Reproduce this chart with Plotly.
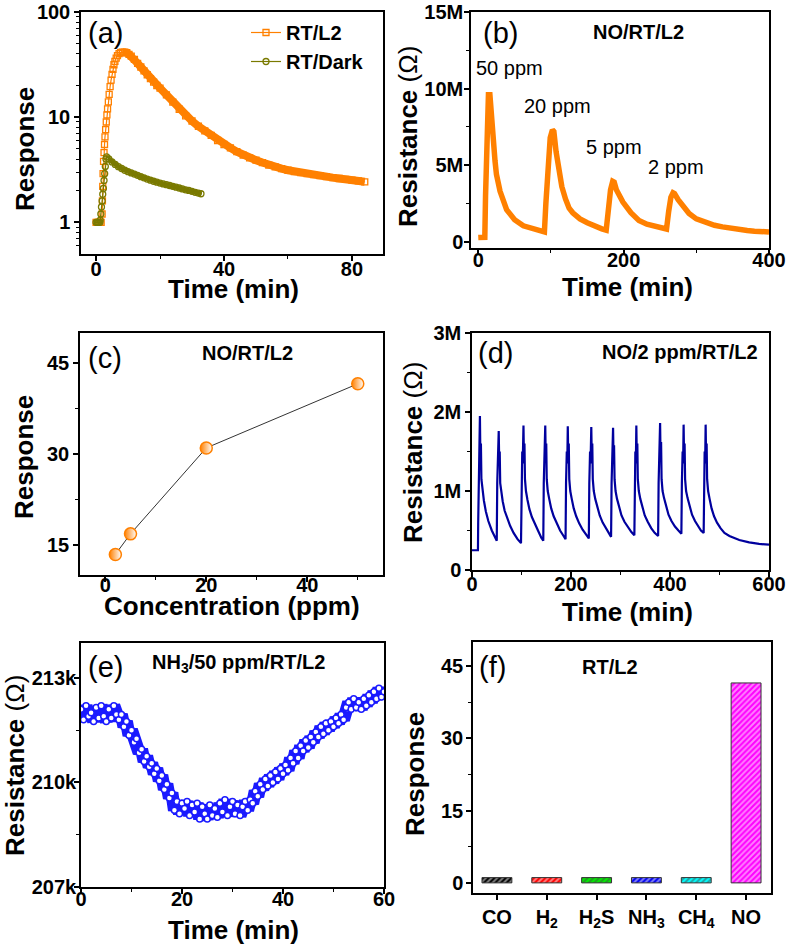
import plotly.graph_objects as go

W, H = 787, 946
def PX(x): return x / W
def PY(y): return 1 - y / H

# ---------------- (a) data ----------------
a_l2_t = [0, 0.4, 0.8, 1.2, 1.6, 1.9, 2.0, 2.1, 2.2, 2.35, 2.5, 2.65, 2.8, 3.0, 3.2, 3.4, 3.6, 3.85,
          4.1, 4.4, 4.7, 5.0, 5.3, 5.6, 5.9, 6.3, 6.7, 7.2, 7.7, 8.3, 9.0, 9.6, 10.3, 11, 12, 13, 14,
          15, 16, 17, 18, 19, 20, 22, 24, 26, 28, 30, 32, 34, 36, 38, 40, 42, 44, 46, 48, 50, 52, 54,
          56, 58, 60, 62, 64, 66, 68, 70, 72, 74, 76, 78, 80, 82, 84]
a_l2_r = [1, 1, 1, 1, 1, 1.2, 1.6, 2.2, 2.9, 3.8, 4.6, 5.5, 6.5, 7.6, 9.0, 10.5, 12.0, 14.0,
          16.5, 19.5, 22.5, 25.5, 28.5, 31.5, 34, 36.5, 38.5, 40.2, 41.2, 41.5, 41.5, 41, 39.5, 38, 35.5,
          32.5, 30, 27.5, 25.3, 23.3, 21.5, 20, 18.9, 16.3, 13.9, 11.9, 10.3, 9.2, 8.2, 7.4, 6.7, 6.0,
          5.5, 5.1, 4.7, 4.35, 4.1, 3.9, 3.7, 3.5, 3.37, 3.24, 3.13, 3.04, 2.97, 2.91, 2.84, 2.78, 2.72,
          2.66, 2.61, 2.56, 2.52, 2.48, 2.43]
a_dk_t = [0, 0.4, 0.8, 1.2, 1.3, 1.5, 1.7, 1.9, 2.1, 2.3, 2.5, 2.7, 2.9, 3.1, 3.3, 4, 5, 6, 7, 8, 9,
          10, 11, 12, 13, 14, 15, 16, 17, 18, 19, 20, 21, 22, 23, 24, 25, 26, 27, 28, 29, 30, 31, 32, 32.8]
a_dk_r = [1, 1, 1, 1, 1.05, 1.2, 1.4, 1.6, 1.85, 2.1, 2.5, 2.9, 3.4, 4.0, 4.2, 4.0, 3.75, 3.55, 3.38,
          3.25, 3.13, 3.03, 2.95, 2.88, 2.8, 2.72, 2.65, 2.58, 2.52, 2.46, 2.41, 2.36, 2.32, 2.28, 2.24,
          2.2, 2.16, 2.12, 2.08, 2.04, 2.01, 1.97, 1.93, 1.9, 1.87]

# ---------------- (b) data (MΩ) ----------------
b_t = [0, 8, 9, 10, 11, 12, 14, 16, 18, 20, 23, 25, 30, 39, 50, 62, 75, 84, 91, 93, 96, 99, 102, 104,
       107, 110, 115, 120, 125, 130, 140, 150, 160, 170, 176, 179, 182, 185, 187, 190, 195, 199, 210,
       221, 232, 244, 258, 259, 262, 265, 268, 270, 275, 280, 290, 300, 313, 325, 336, 347, 358, 370,
       380, 390, 400]
b_r = [0.28, 0.28, 0.3, 3.0, 6.0, 8.5, 9.6, 9.6, 8.0, 6.6, 5.3, 4.4, 3.3, 2.1, 1.45, 1.05, 0.85, 0.75,
       0.65, 2.5, 5.0, 6.8, 7.3, 7.2, 5.9, 4.8, 3.6, 2.8, 2.2, 1.9, 1.5, 1.25, 1.0, 0.85, 0.76, 2.2, 3.4,
       3.95, 3.9, 3.4, 2.9, 2.6, 1.9, 1.4, 1.15, 0.98, 0.85, 0.84, 2.0, 2.9, 3.2, 3.15, 2.75, 2.4, 1.85,
       1.5, 1.24, 1.08, 0.98, 0.88, 0.8, 0.74, 0.7, 0.67, 0.65]

# ---------------- (c) data ----------------
c_conc = [2, 5, 20, 50]
c_resp = [13.4, 16.8, 31.0, 41.6]

# ---------------- (d) data (MΩ) ----------------
d_t = [0, 12,
       12.5, 13.5, 14.5, 15, 16, 17, 18, 19, 21, 24, 28, 33, 40, 46, 50,
       51, 52, 53, 54, 55, 56, 57, 59, 62, 66, 71, 77, 84, 92, 99,
       100, 101.5, 102.5, 104, 105, 106, 107, 109, 112, 116, 121, 127, 134, 140, 144,
       145, 146, 147, 148, 149, 150, 151, 153, 156, 160, 165, 171, 178, 185, 189,
       190, 191.5, 192.5, 193.5, 194.5, 195.5, 196.5, 198.5, 201.5, 205.5, 210.5, 216.5, 223.5, 230.5, 236,
       237, 238.5, 239.5, 241, 242, 243, 244, 246, 249, 253, 258, 264, 270, 276, 281,
       282, 283, 284, 285, 286, 287, 288, 290, 293, 297, 302, 308, 315, 322, 328,
       329, 330, 331, 332, 333, 334, 335, 337, 340, 344, 349, 355, 362, 369, 376,
       377, 378, 379, 380, 381, 382, 383, 385, 388, 392, 397, 403, 410, 417, 423,
       424, 425.5, 426.5, 427.5, 428.5, 429.5, 430.5, 432.5, 435.5, 439.5, 444.5, 450.5, 456.5, 462.5, 468,
       469, 470, 471, 472, 473, 474, 475, 477, 480, 484, 489, 495, 502, 510, 520, 540, 560, 580, 600]
d_r = [0.25, 0.25,
       0.6, 1.2, 1.5, 1.3, 1.95, 1.4, 1.6, 1.15, 1.0, 0.88, 0.74, 0.62, 0.5, 0.41, 0.37,
       1.1, 1.45, 1.3, 1.76, 1.35, 1.5, 1.1, 0.97, 0.87, 0.75, 0.65, 0.56, 0.47, 0.39, 0.34,
       1.1, 1.5, 1.35, 1.83, 1.4, 1.6, 1.15, 1.0, 0.89, 0.77, 0.67, 0.58, 0.49, 0.41, 0.37,
       1.1, 1.5, 1.35, 1.83, 1.4, 1.6, 1.15, 1.0, 0.9, 0.78, 0.68, 0.59, 0.5, 0.43, 0.39,
       1.1, 1.5, 1.35, 1.82, 1.4, 1.6, 1.15, 1.0, 0.9, 0.78, 0.68, 0.59, 0.51, 0.44, 0.40,
       1.1, 1.5, 1.35, 1.81, 1.4, 1.6, 1.15, 1.0, 0.9, 0.79, 0.69, 0.6, 0.53, 0.46, 0.42,
       1.1, 1.5, 1.35, 1.80, 1.4, 1.58, 1.15, 1.0, 0.9, 0.79, 0.69, 0.61, 0.54, 0.48, 0.44,
       1.1, 1.5, 1.35, 1.83, 1.4, 1.6, 1.15, 1.0, 0.9, 0.79, 0.69, 0.61, 0.53, 0.47, 0.43,
       1.1, 1.5, 1.35, 1.86, 1.4, 1.62, 1.15, 1.0, 0.91, 0.8, 0.7, 0.62, 0.55, 0.5, 0.46,
       1.1, 1.5, 1.35, 1.84, 1.4, 1.6, 1.15, 1.0, 0.91, 0.8, 0.7, 0.62, 0.56, 0.5, 0.47,
       1.1, 1.5, 1.35, 1.84, 1.4, 1.6, 1.15, 1.0, 0.9, 0.78, 0.68, 0.6, 0.53, 0.47, 0.43, 0.38, 0.35, 0.33, 0.32]

# ---------------- (e) data (kΩ) ----------------
e_t = [i * 0.5 for i in range(121)]
e_r = [212.1, 211.8, 212.2, 211.9, 212.0, 211.75, 212.15, 211.85, 212.2, 211.9, 211.75, 212.1, 211.85,
       212.2, 211.95, 211.8, 211.95, 211.6, 211.75, 211.35, 211.5, 211.15, 211.25, 210.85, 210.95, 210.6,
       210.75, 210.45, 210.55, 210.25, 210.4, 210.05, 210.2, 209.8, 209.95, 209.55, 209.7, 209.2, 209.45,
       209.1, 209.4, 209.25, 209.45, 209.05, 209.35, 209.15, 209.4, 208.95, 209.3, 209.1, 208.95, 209.35,
       209.05, 209.25, 209.0, 209.4, 209.15, 209.5, 209.05, 209.3, 209.45, 209.1, 209.35, 209.05, 209.3,
       209.45, 209.2, 209.5, 209.4, 209.75, 209.6, 209.95, 209.8, 210.1, 209.9, 210.2, 210.0, 210.3,
       210.1, 210.4, 210.25, 210.5, 210.35, 210.7, 210.55, 210.9, 210.7, 211.05, 210.9, 211.2, 211.0,
       211.3, 211.15, 211.45, 211.3, 211.6, 211.4, 211.7, 211.5, 211.75, 211.6, 211.85, 211.7, 211.95,
       211.8, 212.15, 212.3, 212.1, 212.4, 212.15, 212.3, 212.1, 212.4, 212.2, 212.5, 212.3, 212.6,
       212.4, 212.7, 212.45, 212.6]

# ---------------- (f) data ----------------
f_gas = ["CO", "H<sub>2</sub>", "H<sub>2</sub>S", "NH<sub>3</sub>", "CH<sub>4</sub>", "NO"]
f_resp = [1.1, 1.1, 1.1, 1.1, 1.1, 41.5]
f_colors = ["#000000", "#FF0000", "#00EE00", "#0000EE", "#00FFFF", "#FF00FF"]

ORANGE = "#FF8000"
OLIVE = "#7A7A00"
NAVY = "#00009E"
BLUE = "#1A1AFF"

fig = go.Figure()

# (a)
band_start = 29
fig.add_trace(go.Scatter(x=a_l2_t[band_start:], y=a_l2_r[band_start:], mode="lines",
                         line=dict(color=ORANGE, width=8), showlegend=False, xaxis="x", yaxis="y"))
fig.add_trace(go.Scatter(x=a_l2_t, y=a_l2_r, mode="lines+markers", name="<b>RT/L2</b>",
                         line=dict(color=ORANGE, width=1.2),
                         marker=dict(symbol="square-open", size=6, color=ORANGE, line=dict(width=1.3)),
                         xaxis="x", yaxis="y"))
fig.add_trace(go.Scatter(x=a_dk_t[15:], y=a_dk_r[15:], mode="lines",
                         line=dict(color=OLIVE, width=5), showlegend=False, xaxis="x", yaxis="y"))
fig.add_trace(go.Scatter(x=a_dk_t, y=a_dk_r, mode="lines+markers", name="<b>RT/Dark</b>",
                         line=dict(color=OLIVE, width=1.2),
                         marker=dict(symbol="circle-open", size=6, color=OLIVE, line=dict(width=1.3)),
                         xaxis="x", yaxis="y"))
# (b)
fig.add_trace(go.Scatter(x=b_t, y=b_r, mode="lines", line=dict(color=ORANGE, width=5.5),
                         showlegend=False, xaxis="x2", yaxis="y2"))
# (c)
fig.add_trace(go.Scatter(x=c_conc, y=c_resp, mode="lines+markers", line=dict(color="#333333", width=1),
                         marker=dict(symbol="circle", size=12, color=ORANGE,
                                     gradient=dict(type="horizontal", color="white"),
                                     line=dict(color=ORANGE, width=1.5)),
                         showlegend=False, xaxis="x3", yaxis="y3"))
# (d)
fig.add_trace(go.Scatter(x=d_t, y=d_r, mode="lines", line=dict(color=NAVY, width=2.2),
                         showlegend=False, xaxis="x4", yaxis="y4"))
# (e): dense band of open circles
fig.add_trace(go.Scatter(x=e_t, y=e_r, mode="lines", line=dict(color=BLUE, width=13),
                         showlegend=False, xaxis="x5", yaxis="y5"))
fig.add_trace(go.Scatter(x=e_t, y=e_r, mode="markers",
                         marker=dict(symbol="circle", size=6, color="white", line=dict(width=1.5, color=BLUE)),
                         showlegend=False, xaxis="x5", yaxis="y5"))
# (f)
fig.add_trace(go.Bar(x=f_gas, y=f_resp, width=0.6,
                     marker=dict(color=f_colors, line=dict(color="#333333", width=1),
                                 pattern=dict(shape="/", fgcolor="black", fillmode="overlay", size=4, solidity=0.5)),
                     showlegend=False, xaxis="x6", yaxis="y6"))

tickfont = dict(family="Liberation Sans", size=20, color="black", weight="bold")
def ax(**kw):
    d = dict(showline=True, linecolor="black", linewidth=1.5, mirror=True, ticks="outside", ticklen=5,
             tickwidth=1.5, tickcolor="black", showgrid=False, zeroline=False, tickfont=tickfont,
             automargin=False)
    d.update(kw)
    return d

def mn(vals):
    return dict(ticks="outside", ticklen=3, tickcolor="black", tickwidth=1.2, tickvals=vals)

def dom(a, b):
    return [a / W, b / W]

def ydom(top, bot):
    return [1 - bot / H, 1 - top / H]

fig.update_layout(
    width=W, height=H, margin=dict(l=0, r=0, t=0, b=0, pad=0),
    paper_bgcolor="white", plot_bgcolor="white",
    font=dict(family="Liberation Sans", color="black"),
    showlegend=True,
    legend=dict(x=PX(246), y=PY(13), xanchor="left", yanchor="top", bgcolor="rgba(0,0,0,0)",
                font=dict(family="Liberation Sans", size=20, color="black"), itemwidth=30,
                tracegroupgap=0),
    xaxis=ax(domain=dom(81, 383), range=[-4.7, 89.7], tickvals=[0, 40, 80], minor=mn([20, 60]),
             ticklabelstandoff=-9, anchor="y"),
    yaxis=ax(domain=ydom(12, 254), type="log", range=[-0.301, 2], tickvals=[1, 10, 100],
             ticktext=["1", "10", "100"],
             minor=mn([0.6, 0.7, 0.8, 0.9, 2, 3, 4, 5, 6, 7, 8, 9, 20, 30, 40, 50, 60, 70, 80, 90]),
             anchor="x"),
    xaxis2=ax(domain=dom(471, 769), range=[-10, 400], tickvals=[0, 200, 400], minor=mn([100, 300]),
              ticklabelstandoff=-12, anchor="y2"),
    yaxis2=ax(domain=ydom(12, 248), range=[-0.4, 15], tickvals=[0, 5, 10, 15],
              ticktext=["0", "5M", "10M", "15M"], minor=mn([2.5, 7.5, 12.5]), ticklabelstandoff=-3,
              anchor="x2"),
    xaxis3=ax(domain=dom(80, 383), range=[-5, 55], tickvals=[0, 20, 40], minor=mn([10, 30, 50]),
              ticklabelstandoff=-14, anchor="y3"),
    yaxis3=ax(domain=ydom(333, 575), range=[10, 50], tickvals=[15, 30, 45], minor=mn([22.5, 37.5]), anchor="x3"),
    xaxis4=ax(domain=dom(472, 769), range=[0, 600], tickvals=[0, 200, 400, 600], minor=mn([100, 300, 500]),
              ticklabelstandoff=-10, anchor="y4"),
    yaxis4=ax(domain=ydom(333, 570), range=[0, 3], tickvals=[0, 1, 2, 3],
              ticktext=["0", "1M", "2M", "3M"], minor=mn([0.5, 1.5, 2.5]), anchor="x4"),
    xaxis5=ax(domain=dom(81, 384), range=[0, 60], tickvals=[0, 20, 40, 60], minor=mn([10, 30, 50]),
              ticklabelstandoff=-12, anchor="y5"),
    yaxis5=ax(domain=ydom(643, 887), range=[207, 214], tickvals=[207, 210, 213],
              ticktext=["207k", "210k", "213k"], minor=mn([208.5, 211.5]), ticklabelstandoff=-6,
              anchor="x5"),
    xaxis6=ax(domain=dom(473, 771), range=[-0.48, 5.5], type="category", anchor="y6"),
    yaxis6=ax(domain=ydom(642, 893), range=[-2.1, 50], tickvals=[0, 15, 30, 45],
              minor=mn([7.5, 22.5, 37.5]), ticklabelstandoff=-1, anchor="x6"),
)

ann = []
def text(x, y, s, size=20, bold=True, angle=0):
    ann.append(dict(x=PX(x), y=PY(y), xref="paper", yref="paper", text=s, showarrow=False,
                    xanchor="center", yanchor="middle", textangle=angle,
                    font=dict(family="Liberation Sans", size=size, color="black",
                              weight="bold" if bold else "normal")))

# panel labels
text(105, 33, "(a)", 29, False)
text(500, 33, "(b)", 29, False)
text(105, 358, "(c)", 29, False)
text(495, 353, "(d)", 29, False)
text(105, 667, "(e)", 29, False)
text(493, 667, "(f)", 29, False)
# inner titles
text(638, 32, "NO/RT/L2")
text(247, 353, "NO/RT/L2")
text(680, 352, "NO/2 ppm/RT/L2")
text(238, 663, "NH<sub>3</sub>/50 ppm/RT/L2")
text(610, 667, "RT/L2")
# ppm labels in (b)
text(510, 68, "50 ppm", 20, False)
text(557, 106, "20 ppm", 20, False)
text(614, 147, "5 ppm", 20, False)
text(676, 167, "2 ppm", 20, False)
# axis titles
text(233, 289, "Time (min)", 26)
text(627, 287, "Time (min)", 26)
text(232, 606, "Concentration (ppm)", 26)
text(627, 612, "Time (min)", 26)
text(233, 930, "Time (min)", 26)
text(25, 149, "Response", 26, True, -90)
text(24, 457, "Response", 26, True, -90)
text(415, 774, "Response", 26, True, -90)
text(408, 137, "<b>Resistance</b> (Ω)", 26, False, -90)
text(413, 453, "<b>Resistance</b> (Ω)", 26, False, -90)
text(15, 766, "<b>Resistance</b> (Ω)", 26, False, -90)

fig.update_layout(annotations=ann)
fig.write_html("out.html", config={"displayModeBar": False},
               post_script="document.body.style.margin='0';document.body.style.overflow='hidden';")
